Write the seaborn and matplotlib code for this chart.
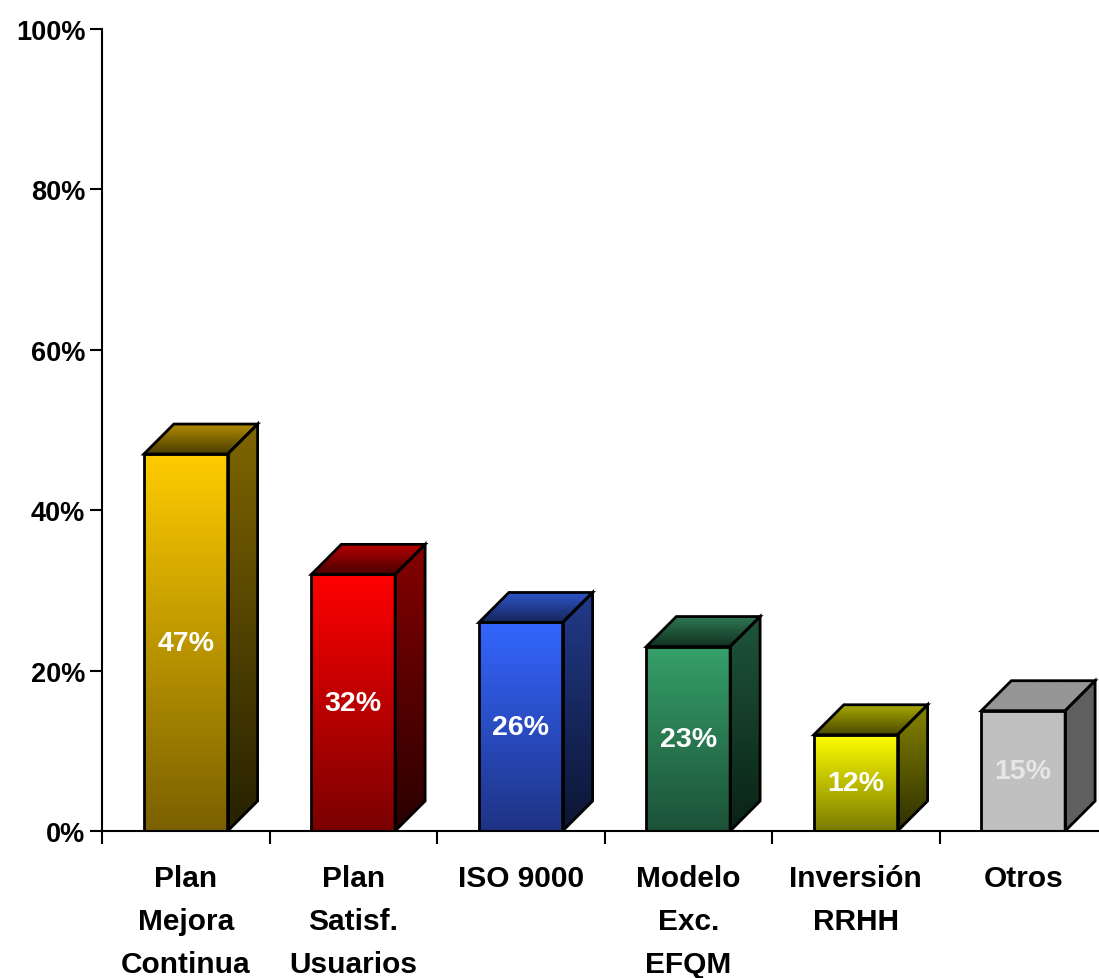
import numpy as np
import matplotlib
matplotlib.use('Agg')
import matplotlib.pyplot as plt
import seaborn as sns
from matplotlib.colors import LinearSegmentedColormap
from matplotlib.patches import Polygon

# datos
categorias = ['Plan\nMejora\nContinua', 'Plan\nSatisf.\nUsuarios', 'ISO 9000',
              'Modelo\nExc.\nEFQM', 'Inversión\nRRHH', 'Otros']
valores = [47, 32, 26, 23, 12, 15]
etiquetas = ['47%', '32%', '26%', '23%', '12%', '15%']
yticks = [0, 20, 40, 60, 80, 100]

# colores (frente arriba/abajo, lado arriba/abajo, tapa fondo/frente)
frente = [('#FFCC00', '#7A6000'), ('#FF0000', '#7A0000'), ('#3366FF', '#1F3385'),
          ('#35A06A', '#1C5238'), ('#FFFF00', '#7A7A00'), ('#C0C0C0', '#C0C0C0')]
lado = [('#7F6600', '#262000'), ('#850000', '#2A0000'), ('#223A8A', '#0C1533'),
        ('#1F553A', '#0A2216'), ('#858500', '#2E2E00'), ('#606060', '#606060')]
tapa = [('#B08C00', '#4A3B00'), ('#B80000', '#4A0000'), ('#2F55CC', '#15265A'),
        ('#2D7752', '#12301F'), ('#A8A800', '#484800'), ('#969696', '#969696')]
color_txt = ['white', 'white', 'white', 'white', 'white', '#E6E6E6']

sns.set_style('white')
plt.rcParams['font.family'] = ['Liberation Sans', 'DejaVu Sans']
plt.rcParams['font.weight'] = 'bold'
plt.rcParams['text.color'] = 'black'
plt.rcParams['xtick.color'] = 'black'
plt.rcParams['ytick.color'] = 'black'

fig = plt.figure(figsize=(10.99, 9.79), dpi=100)
ax = fig.add_axes([102/1099, 147/979, 997/1099, 802/979])

sns.barplot(x=categorias, y=valores, width=0.5, color='white', edgecolor='black',
            linewidth=2, errorbar=None, ax=ax, zorder=3)

dx, dy = 0.179, 3.74


def degradado(patch, c_arriba, c_abajo, ext):
    cmap = LinearSegmentedColormap.from_list('g', [c_abajo, c_arriba])
    im = ax.imshow(np.linspace(0, 1, 256).reshape(-1, 1), cmap=cmap, extent=ext,
                   origin='lower', aspect='auto', interpolation='bilinear', zorder=2)
    im.set_clip_path(patch)


for i, p in enumerate(ax.patches):
    p.set_facecolor('none')
    x0, w, h = p.get_x(), p.get_width(), p.get_height()
    x1 = x0 + w
    degradado(p, frente[i][0], frente[i][1], (x0, x1, 0, h))
    # cara lateral
    side = Polygon([(x1, 0), (x1 + dx, dy), (x1 + dx, h + dy), (x1, h)], closed=True,
                   facecolor='none', edgecolor='black', linewidth=2, zorder=3,
                   joinstyle='miter')
    ax.add_patch(side)
    degradado(side, lado[i][0], lado[i][1], (x1, x1 + dx, 0, h + dy))
    # tapa
    top = Polygon([(x0, h), (x1, h), (x1 + dx, h + dy), (x0 + dx, h + dy)], closed=True,
                  facecolor='none', edgecolor='black', linewidth=2, zorder=3,
                  joinstyle='miter')
    ax.add_patch(top)
    degradado(top, tapa[i][0], tapa[i][1], (x0, x1 + dx, h, h + dy))
    ax.text(x0 + w / 2, h / 2, etiquetas[i], ha='center', va='center', color=color_txt[i],
            fontsize=20.5, fontweight='bold', zorder=4)

ax.set_xlim(-0.5, -0.5 + 997 / 167.5)
ax.set_ylim(0, 100)

ax.set_yticks(yticks, [f'{t}%' for t in yticks])
ax.set_xticks(np.arange(-0.5, 5, 1), [])
ax.set_xticks(np.arange(len(categorias)), categorias, minor=True)
ax.tick_params(axis='y', direction='out', length=9, width=1.5, labelsize=19.5, pad=3, left=True)
ax.tick_params(axis='x', which='major', direction='out', length=9.5, width=1.5, bottom=True)
ax.tick_params(axis='x', which='minor', length=0, labelsize=21.5, pad=24)
for lab in ax.get_xticklabels(minor=True):
    lab.set_linespacing(1.68)
    lab.set_fontweight('bold')
for lab in ax.get_yticklabels():
    lab.set_fontweight('bold')

sns.despine(ax=ax, top=True, right=True)
ax.spines['left'].set_linewidth(1.5)
ax.spines['bottom'].set_linewidth(1.5)
ax.spines['left'].set_color('black')
ax.spines['bottom'].set_color('black')
ax.set_xlabel('')
ax.set_ylabel('')

fig.savefig('out.png', dpi=100)
